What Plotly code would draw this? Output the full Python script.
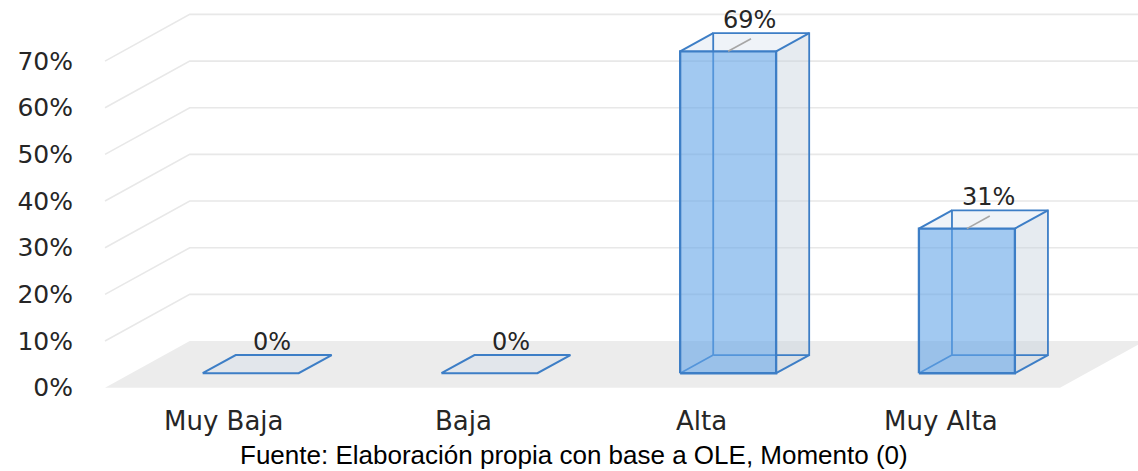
import plotly.graph_objects as go

# ---------------- data ----------------
categories = ["Muy Baja", "Baja", "Alta", "Muy Alta"]
values = [0, 0, 69, 31]
tick_values = [0, 10, 20, 30, 40, 50, 60, 70]
tick_labels = ["0%", "10%", "20%", "30%", "40%", "50%", "60%", "70%"]
footer_text = "Fuente: Elaboración propia con base a OLE, Momento (0)"

# ---------------- 3-D look (oblique projection) ----------------
DEPTH_X = 0.355   # horizontal shift of the full floor depth (category units)
DEPTH_Y = 10.0    # vertical shift of the full floor depth (percent units)
BAR_FRONT = 0.31  # depth fraction of the bar front face
BAR_BACK = 0.70   # depth fraction of the bar back face
BAR_W = 0.402     # bar width (category units)
LEADER = 0.27     # leader line length (depth fraction)

EDGE = "#3d7ec6"
FRONT_FILL = "rgba(100,165,232,0.6)"
SIDE_FILL = "rgba(200,210,222,0.45)"
TOP_FILL = "rgba(210,222,235,0.35)"
FLOOR_FILL = "#ececec"
GRID = "#e8e8e8"
TEXT = "#262626"

n = len(categories)
fig = go.Figure()


def add_poly(xs, ys, fill=None, line_color=None, width=0):
    kw = dict(x=xs, y=ys, mode="lines", hoverinfo="skip", showlegend=False)
    if fill is not None:
        kw["fill"] = "toself"
        kw["fillcolor"] = fill
    if line_color is None:
        kw["line"] = dict(width=0, color="rgba(0,0,0,0)")
    else:
        kw["line"] = dict(width=width, color=line_color)
    fig.add_trace(go.Scatter(**kw))


# back-wall / side-wall gridlines
gx, gy = [], []
for t in tick_values:
    if t == 0:
        continue
    gx += [0, DEPTH_X, n + 1, None]
    gy += [t, t + DEPTH_Y, t + DEPTH_Y, None]
add_poly(gx, gy, line_color=GRID, width=1.6)

# floor
add_poly([0, n, n + DEPTH_X, DEPTH_X, 0], [0, 0, DEPTH_Y, DEPTH_Y, 0], fill=FLOOR_FILL)

# bars
sx = (BAR_BACK - BAR_FRONT) * DEPTH_X
sy = (BAR_BACK - BAR_FRONT) * DEPTH_Y
for i, v in enumerate(values):
    cx = i + 0.5 + BAR_FRONT * DEPTH_X
    x0, x1 = cx - BAR_W / 2, cx + BAR_W / 2
    y0 = BAR_FRONT * DEPTH_Y
    y1 = y0 + v
    # right side face
    if v > 0:
        add_poly([x1, x1, x1 + sx, x1 + sx, x1], [y0, y1, y1 + sy, y0 + sy, y0], fill=SIDE_FILL)
    # top face
    add_poly([x0, x1, x1 + sx, x0 + sx, x0], [y1, y1, y1 + sy, y1 + sy, y1], fill=TOP_FILL)
    if v > 0:
        # hidden edges (back rectangle + bottom-left depth edge)
        add_poly([x0 + sx, x1 + sx, x1 + sx, x0 + sx, x0 + sx, None, x0, x0 + sx],
                 [y0 + sy, y0 + sy, y1 + sy, y1 + sy, y0 + sy, None, y0, y0 + sy],
                 line_color=EDGE, width=1.8)
        # front face
        add_poly([x0, x1, x1, x0, x0], [y0, y0, y1, y1, y0], fill=FRONT_FILL,
                 line_color=EDGE, width=2.3)
        # visible depth edges
        add_poly([x0, x0 + sx, None, x1, x1 + sx, None, x1, x1 + sx],
                 [y1, y1 + sy, None, y1, y1 + sy, None, y0, y0 + sy],
                 line_color=EDGE, width=2)
        # leader line
        add_poly([cx, cx + LEADER * DEPTH_X], [y1, y1 + LEADER * DEPTH_Y],
                 line_color="#a6a6a6", width=1.6)
    else:
        add_poly([x0, x1, x1 + sx, x0 + sx, x0], [y1, y1, y1 + sy, y1 + sy, y1],
                 line_color=EDGE, width=2)

    # data label
    fig.add_annotation(x=cx + LEADER * DEPTH_X - 0.005, y=y1 + LEADER * DEPTH_Y + 4.1,
                       text=f"{v}%", showarrow=False, xanchor="center", yanchor="middle",
                       font=dict(family="DejaVu Sans", size=24, color=TEXT))

# category labels
for i, c in enumerate(categories):
    fig.add_annotation(x=i + 0.5, y=-7.2, text=c, showarrow=False,
                       xanchor="center", yanchor="middle",
                       font=dict(family="DejaVu Sans", size=26, color=TEXT))

# footer
fig.add_annotation(xref="paper", yref="paper", x=0.467, y=0.035, text=footer_text,
                   showarrow=False, xanchor="center", yanchor="middle",
                   font=dict(family="Liberation Sans, Arial", size=26, color="#000000"))

fig.update_layout(
    width=1138, height=471,
    margin=dict(l=80, r=0, t=0, b=0),
    paper_bgcolor="white", plot_bgcolor="white",
    xaxis=dict(range=[-0.1047, 4.3267], visible=False, fixedrange=True),
    yaxis=dict(range=[-17.85, 83.09], tickvals=tick_values, ticktext=tick_labels,
               showgrid=False, zeroline=False, showline=False, ticks="",
               automargin=False, ticklabelstandoff=6, fixedrange=True,
               tickfont=dict(family="DejaVu Sans", size=25, color=TEXT)),
)

fig.write_html("out.html", config={"displayModeBar": False},
               post_script="document.body.style.margin='0px';document.body.style.padding='0px';")
